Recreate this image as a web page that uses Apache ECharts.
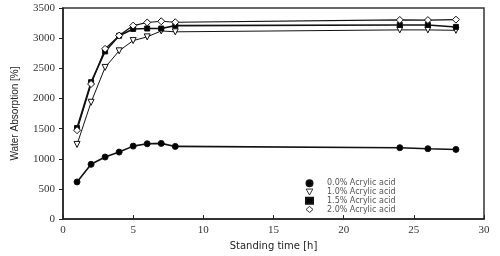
<!DOCTYPE html>
<html><head><meta charset="utf-8">
<script src="https://cdn.jsdelivr.net/npm/echarts@6/dist/echarts.min.js"></script>
<style>html,body{margin:0;padding:0;background:#fff}#c{width:500px;height:256px}</style>
</head><body><div id="c"></div>
<script>
var hours = [1, 2, 3, 4, 5, 6, 7, 8, 24, 26, 28];
var acid00 = [616, 908, 1029, 1111, 1210, 1249, 1255, 1205, 1184, 1167, 1155];
var acid10 = [1238, 1937, 2515, 2790, 2960, 3021, 3120, 3105, 3137, 3137, 3130];
var acid15 = [1510, 2270, 2780, 3040, 3153, 3160, 3160, 3208, 3219, 3219, 3186];
var acid20 = [1474, 2240, 2823, 3043, 3208, 3260, 3280, 3264, 3302, 3300, 3307];
var seriesNames = ['0.0% Acrylic acid', '1.0% Acrylic acid', '1.5% Acrylic acid', '2.0% Acrylic acid'];
var xTicks = [0, 5, 10, 15, 20, 25, 30];
var yTicks = [0, 500, 1000, 1500, 2000, 2500, 3000, 3500];

var triDown = 'path://M0,0 L10,0 L5,9 Z';
function pts(arr){ return hours.map(function(h,i){ return [h, arr[i]]; }); }
function mk(name, arr, symbol, fill, size, lw){
  return {
    name: name, type: 'line', data: pts(arr), symbol: symbol, symbolSize: size,
    lineStyle: {color: '#111', width: lw},
    itemStyle: {color: fill, borderColor: '#111', borderWidth: 1},
    emphasis: {disabled: true}
  };
}
var chart = echarts.init(document.getElementById('c'));
chart.setOption({
  animation: false,
  backgroundColor: '#fff',
  grid: {left: 63, right: 16, top: 8, bottom: 36, show: true, borderColor: '#333', borderWidth: 1.5},
  legend: {
    orient: 'vertical', left: 300, top: 174, itemWidth: 7, itemHeight: 6, itemGap: 0,
    textStyle: {fontSize: 8, color: '#555', fontFamily: 'DejaVu Sans', lineHeight: 8.7, padding: [0, 0, 0, 9]},
    data: [
      {name: seriesNames[0], icon: 'circle'},
      {name: seriesNames[1], icon: triDown, itemStyle: {color: '#fff', borderColor: '#333', borderWidth: 1}},
      {name: seriesNames[2], icon: 'rect'},
      {name: seriesNames[3], icon: 'diamond', itemStyle: {color: '#fff', borderColor: '#333', borderWidth: 1}}
    ]
  },
  xAxis: {
    type: 'value', min: xTicks[0], max: xTicks[xTicks.length-1], interval: 5,
    name: 'Standing time [h]', nameLocation: 'middle', nameGap: 21,
    nameTextStyle: {fontSize: 10, color: '#222', fontFamily: 'DejaVu Sans'},
    axisLine: {lineStyle: {color: '#222', width: 1.5}},
    axisTick: {inside: true, length: 4, lineStyle: {color: '#222'}},
    axisLabel: {fontSize: 11, color: '#333', fontFamily: 'Liberation Serif', margin: 6},
    splitLine: {show: false}
  },
  yAxis: {
    type: 'value', min: yTicks[0], max: yTicks[yTicks.length-1], interval: 500,
    name: 'Water Absorption [%]', nameLocation: 'middle', nameGap: 43,
    nameTextStyle: {fontSize: 10, color: '#222', fontFamily: 'Liberation Sans'},
    axisLine: {show: true, lineStyle: {color: '#222', width: 1.5}},
    axisTick: {show: true, length: 4, lineStyle: {color: '#222'}},
    axisLabel: {fontSize: 11, color: '#333', fontFamily: 'Liberation Serif', margin: 8,
      formatter: function(v){ return String(v); }},
    splitLine: {show: false}
  },
  series: [
    mk(seriesNames[0], acid00, 'circle', '#000', 6, 1.6),
    mk(seriesNames[1], acid10, triDown, '#fff', 6, 1),
    mk(seriesNames[2], acid15, 'rect', '#000', 5, 1.6),
    mk(seriesNames[3], acid20, 'diamond', '#fff', 7, 1.2)
  ]
});
</script></body></html>
